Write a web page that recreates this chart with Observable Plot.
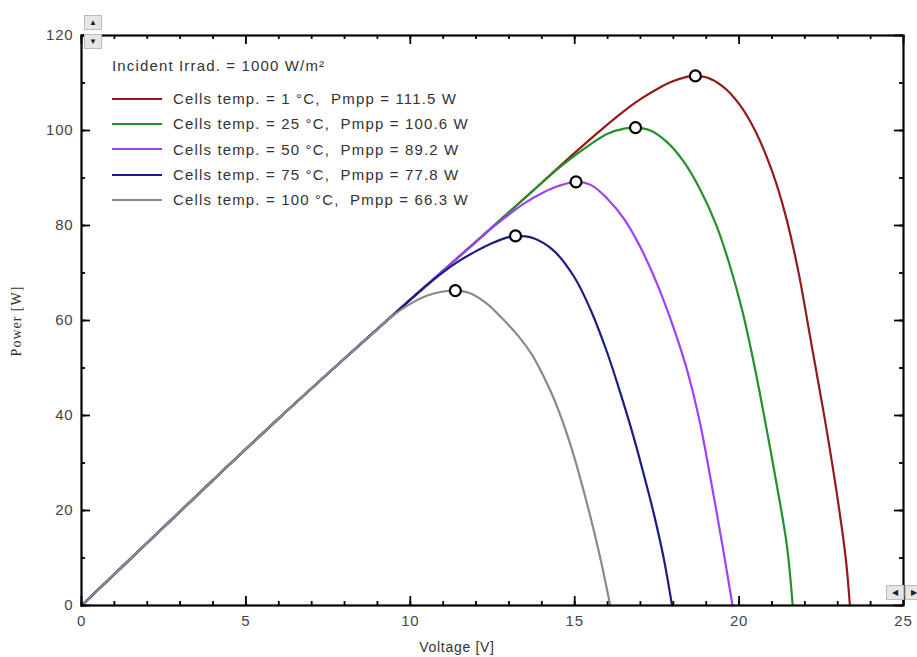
<!DOCTYPE html>
<html>
<head>
<meta charset="utf-8">
<script src="https://cdn.jsdelivr.net/npm/d3@7"></script>
<script src="https://cdn.jsdelivr.net/npm/@observablehq/plot@0.6"></script>
<style>
  html, body { margin: 0; padding: 0; background: #fff; }
  #wrap { position: relative; width: 917px; height: 657px; font-family: "Liberation Sans", Arial, sans-serif; }
  #legend { position: absolute; left: 112px; top: 57px; color: #333; letter-spacing: 1.15px; }
  #legend .title { font-size: 15px; margin-bottom: 12px; white-space: pre; }
  #legend .row { display: flex; align-items: center; height: 25.3px; font-size: 15px; white-space: pre; }
  #legend .sw { width: 50px; height: 0; border-top: 2.5px solid; margin-right: 11px; }
  .btn { position: absolute; width: 18px; height: 15px; background: #e6e6e6; border: 1px solid #bbb; box-sizing: border-box; font-size: 8px; line-height: 13px; text-align: center; color: #222; }
  #ylab { position: absolute; left: 17px; top: 321px; transform: translate(-50%, -50%) rotate(-90deg); font-family: "Liberation Serif", "Times New Roman", serif; font-size: 14px; letter-spacing: 1px; color: #333; white-space: nowrap; }
  #xlab { position: absolute; left: 457px; top: 647px; transform: translate(-50%, -50%); font-size: 14px; letter-spacing: 0.7px; color: #333; white-space: nowrap; }
</style>
</head>
<body>
<div id="wrap"></div>
<script>
// ---- Data ----
const seriesLabels = [
  "Cells temp. = 1 °C,  Pmpp = 111.5 W",
  "Cells temp. = 25 °C,  Pmpp = 100.6 W",
  "Cells temp. = 50 °C,  Pmpp = 89.2 W",
  "Cells temp. = 75 °C,  Pmpp = 77.8 W",
  "Cells temp. = 100 °C,  Pmpp = 66.3 W"
];
const seriesColors = ["#931a1a", "#23902a", "#a040f5", "#1c1c86", "#8a8a8a"];

const volt1  = [0, 2, 4, 6, 8, 10, 12, 14, 15, 16, 16.5, 17, 17.5, 18, 18.4, 18.67, 19.0, 19.5, 20.0, 20.5, 21.0, 21.4, 21.8, 22.2, 22.6, 23.0, 23.25, 23.37];
const power1 = [0, 13.2, 26.4, 39.4, 52.0, 64.4, 76.6, 89.0, 95.3, 101.3, 104.1, 106.6, 108.7, 110.4, 111.3, 111.5, 111.2, 109.3, 105.6, 99.8, 91.5, 82.5, 70.4, 55.0, 39.5, 22.3, 9.5, 0];

const volt2  = [0, 2, 4, 6, 8, 10, 12, 13, 14, 14.5, 15, 15.5, 16, 16.5, 16.85, 17.3, 17.8, 18.3, 18.8, 19.3, 19.7, 20.1, 20.45, 20.8, 21.15, 21.45, 21.63];
const power2 = [0, 13.2, 26.4, 39.4, 52.0, 64.4, 76.6, 82.8, 89.0, 92.0, 94.7, 97.2, 99.3, 100.4, 100.6, 100.0, 97.6, 93.6, 87.8, 80.2, 72.0, 62.0, 51.0, 38.5, 25.2, 12.8, 0];

const volt3  = [0, 2, 4, 6, 8, 10, 12, 12.5, 13, 13.5, 14, 14.5, 15.04, 15.5, 16.0, 16.5, 17.0, 17.5, 18.0, 18.4, 18.8, 19.15, 19.5, 19.8];
const power3 = [0, 13.2, 26.4, 39.4, 52.0, 64.4, 76.6, 79.6, 82.3, 84.8, 86.8, 88.3, 89.2, 88.5, 85.6, 81.4, 75.4, 67.8, 58.6, 50.0, 38.8, 26.0, 12.4, 0];

const volt4  = [0, 2, 4, 6, 8, 10, 10.5, 11, 11.5, 12, 12.5, 13, 13.2, 13.75, 14.36, 15.0, 15.5, 16.0, 16.4, 16.8, 17.1, 17.4, 17.7, 17.96];
const power4 = [0, 13.2, 26.4, 39.4, 52.0, 64.4, 67.4, 70.2, 72.6, 74.6, 76.3, 77.6, 77.8, 77.3, 74.7, 69.0, 62.0, 53.0, 44.5, 35.3, 27.6, 19.5, 10.2, 0];

const volt5  = [0, 2, 4, 6, 8, 9, 9.5, 10, 10.5, 11, 11.37, 11.8, 12.3, 12.8, 13.3, 13.7, 14.1, 14.4, 14.9, 15.4, 15.8, 16.08];
const power5 = [0, 13.2, 26.4, 39.4, 52.0, 58.2, 61.2, 63.5, 65.2, 66.1, 66.3, 65.8, 63.7, 60.4, 56.6, 52.8, 47.6, 43.0, 33.2, 20.8, 9.3, 0];

const mppVolt  = [18.67, 16.85, 15.04, 13.2, 11.37];
const mppPower = [111.5, 100.6, 89.2, 77.8, 66.3];

const xMajorTicks = [0, 5, 10, 15, 20, 25];
const xMinorTicks = d3.range(0, 26, 1);
const yMajorTicks = [0, 20, 40, 60, 80, 100, 120];
const yMinorTicks = d3.range(0, 121, 10);

// ---- Build table ----
const volts = [volt1, volt2, volt3, volt4, volt5];
const powers = [power1, power2, power3, power4, power5];
const rows = [];
volts.forEach((vs, i) => vs.forEach((v, j) => rows.push({series: seriesLabels[i], v, p: powers[i][j]})));
const mpp = mppVolt.map((v, i) => ({series: seriesLabels[i], v, p: mppPower[i]}));

const W = 917, H = 657;
const mL = 81, mR = 14, mT = 35, mB = 52;

const tickStyle = {stroke: "black", strokeWidth: 1.8};
const chart = Plot.plot({
  width: W, height: H,
  marginLeft: mL, marginRight: mR, marginTop: mT, marginBottom: mB,
  style: {fontFamily: "'Liberation Sans', Arial, sans-serif", background: "#fff", letterSpacing: "0.8px"},
  x: {domain: [0, 25]},
  y: {domain: [0, 120]},
  color: {domain: seriesLabels, range: seriesColors},
  marks: [
    Plot.line(rows, {x: "v", y: "p", z: "series", stroke: "series", strokeWidth: 2.2, curve: "catmull-rom"}),
    Plot.dot(mpp, {x: "v", y: "p", r: 5.5, fill: "white", stroke: "black", strokeWidth: 2.2}),
    // inward ticks: bottom / top / left / right
    Plot.ruleX(xMajorTicks, {x: d => d, y1: 0, y2: 0, insetTop: -9, ...tickStyle}),
    Plot.ruleX(xMinorTicks, {x: d => d, y1: 0, y2: 0, insetTop: -4, ...tickStyle}),
    Plot.ruleX(xMajorTicks, {x: d => d, y1: 120, y2: 120, insetBottom: -9, ...tickStyle}),
    Plot.ruleX(xMinorTicks, {x: d => d, y1: 120, y2: 120, insetBottom: -4, ...tickStyle}),
    Plot.ruleY(yMajorTicks, {y: d => d, x1: 0, x2: 0, insetRight: -9, ...tickStyle}),
    Plot.ruleY(yMinorTicks, {y: d => d, x1: 0, x2: 0, insetRight: -4, ...tickStyle}),
    Plot.ruleY(yMajorTicks, {y: d => d, x1: 25, x2: 25, insetLeft: -9, ...tickStyle}),
    Plot.ruleY(yMinorTicks, {y: d => d, x1: 25, x2: 25, insetLeft: -4, ...tickStyle}),
    Plot.axisX({ticks: xMajorTicks, tickSize: 0, tickPadding: 10, label: null, fontSize: 15, fill: "#444"}),
    Plot.axisY({ticks: yMajorTicks, tickSize: 0, tickPadding: 8, label: null, fontSize: 15, fill: "#444"}),
    Plot.frame({stroke: "black", strokeWidth: 2.2})
  ]
});

const wrap = document.getElementById("wrap");
wrap.appendChild(chart);

// Legend (HTML overlay)
const legend = document.createElement("div");
legend.id = "legend";
const t = document.createElement("div");
t.className = "title";
t.textContent = "Incident Irrad. = 1000 W/m²";
legend.appendChild(t);
seriesLabels.forEach((s, i) => {
  const r = document.createElement("div");
  r.className = "row";
  const sw = document.createElement("span");
  sw.className = "sw";
  sw.style.borderTopColor = seriesColors[i];
  const tx = document.createElement("span");
  tx.textContent = s;
  r.appendChild(sw); r.appendChild(tx);
  legend.appendChild(r);
});
wrap.appendChild(legend);

// Axis labels
const yl = document.createElement("div"); yl.id = "ylab"; yl.textContent = "Power [W]"; wrap.appendChild(yl);
const xl = document.createElement("div"); xl.id = "xlab"; xl.textContent = "Voltage [V]"; wrap.appendChild(xl);

// Scroll buttons (decorative)
function btn(x, y, txt) {
  const b = document.createElement("div");
  b.className = "btn";
  b.style.left = x + "px"; b.style.top = y + "px";
  b.textContent = txt;
  wrap.appendChild(b);
}
btn(84, 15, "▲");
btn(84, 34, "▼");
btn(886, 585, "◀");
btn(905, 585, "▶");
</script>
</body>
</html>
